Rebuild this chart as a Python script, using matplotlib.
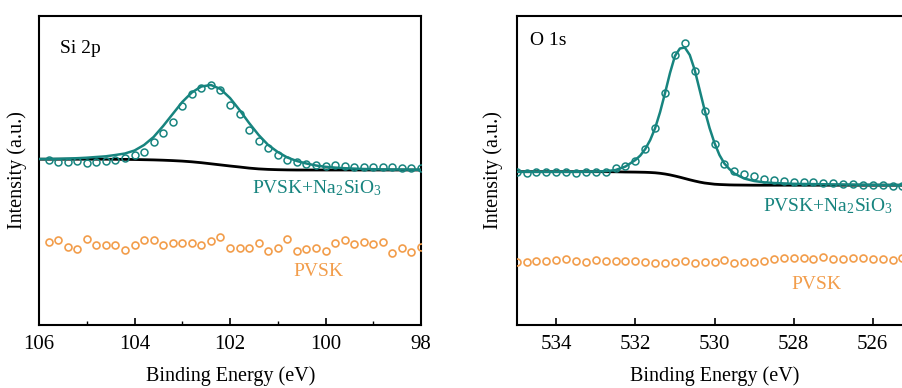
import numpy as np
import matplotlib
matplotlib.use("Agg")
import matplotlib.pyplot as plt

plt.rcParams['font.family'] = ['Liberation Serif', 'DejaVu Serif']
plt.rcParams['mathtext.fontset'] = 'custom'
plt.rcParams['mathtext.rm'] = 'Liberation Serif'
plt.rcParams['mathtext.it'] = 'Liberation Serif:italic'

teal = '#17847f'
orange = '#f29d4b'

# ---- Si 2p ----
si_energy = np.round(np.arange(105.8, 97.95, -0.2), 2)   # 40 points
si_mod = [165, 162.7, 163.3, 164, 162, 162.7, 164, 165, 166.7, 170,
          173.3, 182.7, 191.7, 203.3, 219.5, 231, 236.7, 240, 235, 219.7,
          211.5, 195, 184.5, 176.7, 170, 165.5, 163, 161, 160, 159.3,
          160, 159, 158.3, 158.3, 158.3, 158.3, 158.3, 156.7, 156.7, 156.7]
si_pvsk = [83.3, 85, 78.3, 76, 86, 80, 80, 80, 75, 80,
           85, 85, 80, 81.7, 81.7, 81.7, 80, 84.3, 87.7, 76.7,
           76.7, 76.7, 81.7, 74.3, 76.7, 86, 74, 76, 76.7, 74.3,
           81.7, 85, 81, 83.3, 81, 82.7, 71.7, 76.7, 73.3, 77.7]
si_fit_e = np.round(np.arange(106.0, 97.95, -0.2), 2)     # 41 points
si_fit = [166, 166, 166.2, 166.5, 166.8, 167.3, 168, 168.7, 170, 171.5,
          174.5, 180, 188, 199, 211, 223, 232.5, 238.5, 240, 236,
          227, 215, 202, 190, 180, 173, 167.5, 164, 161.5, 159.5,
          158.2, 157.4, 156.8, 156.4, 156, 155.8, 155.6, 155.5, 155.4, 155.3, 155.2]
si_bg = [165.8, 165.8, 165.8, 165.8, 165.8, 165.8, 165.8, 165.8, 165.7, 165.6,
         165.5, 165.3, 165.1, 164.8, 164.4, 163.9, 163.2, 162.3, 161.2, 160.1,
         159, 158, 156.9, 156.1, 155.6, 155.3, 155.1, 155.0, 155.0, 155.0,
         155.0, 155.0, 155.0, 155.0, 155.0, 155.0, 155.0, 155.0, 155.0, 155.0, 155.0]

# ---- O 1s ----
o_energy = np.round(np.arange(535.0, 525.2, -0.25), 2)    # 40 points
o_mod = [152.7, 152, 152.7, 153.3, 153.3, 153.3, 151.7, 152.7, 152.7, 153,
         156.7, 159.3, 164.3, 175.7, 196.7, 231.7, 270, 282, 254.3, 214,
         181.3, 160.7, 154, 151.5, 149, 146.5, 145, 144, 143.5, 143,
         142.7, 142.4, 141.7, 141.2, 141, 140.4, 140, 140, 138.7, 139.3]
o_pvsk = [63.3, 63.3, 64, 64, 65, 65.7, 64, 62.7, 65, 64,
          64, 64, 64, 63.3, 61.7, 62.3, 63.3, 64, 62.3, 63.3,
          63.3, 65, 62.3, 63.3, 63.3, 64.3, 65.7, 66.7, 66.7, 66.7,
          65.7, 67.7, 65.7, 65.7, 66.7, 66.7, 65.7, 65.7, 65, 66.7]
o_fit_e = [535.0, 534.0, 533.5, 533.0, 532.75, 532.5, 532.25, 532.0, 531.875, 531.75,
           531.625, 531.5, 531.375, 531.25, 531.125, 531.0, 530.875, 530.75, 530.625, 530.5,
           530.375, 530.25, 530.125, 530.0, 529.875, 529.75, 529.625, 529.5, 529.25, 529.0,
           528.75, 528.5, 528.0, 527.0, 526.0, 525.0]
o_fit = [153.2, 153.2, 153.2, 153.4, 153.8, 155, 158.5, 165, 169.5, 176,
         185, 197, 213, 232, 252, 269, 276.5, 277.5, 270, 255,
         235, 215, 197, 182, 170, 161.5, 156, 151.5, 146.5, 144,
         142.7, 142, 141.2, 140.6, 140.2, 139.8]
o_bg = [153.3, 153.3, 153.3, 153.3, 153.3, 153.2, 153.0, 152.9, 152.8, 152.7,
        152.5, 152.2, 151.7, 151, 150.1, 149, 147.8, 146.5, 145.2, 144,
        142.9, 142, 141.4, 140.8, 140.5, 140.3, 140.1, 140.0, 139.9, 139.8,
        139.8, 139.8, 139.8, 139.8, 139.8, 139.8]

fig = plt.figure(figsize=(9.02, 3.88), dpi=100)
ax1 = fig.add_axes([39 / 902, 63 / 388, 382 / 902, 309 / 388])
ax2 = fig.add_axes([516.7 / 902, 63 / 388, 395.6 / 902, 309 / 388])


def style(ax):
    ax.set_ylim(0, 309)
    ax.set_yticks([])
    for s in ax.spines.values():
        s.set_linewidth(1.5)
    ax.tick_params(axis='x', direction='in', length=5, width=1.2,
                   labelsize=15, pad=7)
    ax.tick_params(axis='x', which='minor', direction='in', length=3, width=1.0)
    ax.set_xlabel('Binding Energy (eV)', fontsize=14.5)
    ax.set_ylabel('Intensity (a.u.)', fontsize=14.5)


# Si 2p panel
ax1.plot(si_fit_e, si_bg, color='black', lw=2.0, zorder=2)
ax1.plot(si_fit_e, si_fit, color=teal, lw=1.8, zorder=3)
ax1.plot(si_energy, si_mod, 'o', mfc='none', mec=teal, ms=5, mew=1.1, zorder=4)
ax1.plot(si_energy, si_pvsk, 'o', mfc='none', mec=orange, ms=5, mew=1.2, zorder=4)
ax1.set_xlim(106, 98)
ax1.set_xticks([106, 104, 102, 100, 98])
ax1.set_xticks([105, 103, 101, 99], minor=True)
style(ax1)
ax1.text(0.055, 0.896, 'Si 2p', transform=ax1.transAxes, fontsize=14,
         ha='left', va='center')
ax1.text(0.727, 0.443, r'PVSK+Na$_\mathregular{2}$SiO$_\mathregular{3}$',
         transform=ax1.transAxes, fontsize=14, color=teal, ha='center', va='center')
ax1.text(0.732, 0.172, 'PVSK', transform=ax1.transAxes, fontsize=14,
         color=orange, ha='center', va='center')
ax1.yaxis.set_label_coords(-0.031, 0.5)
ax1.xaxis.set_label_coords(0.502, -0.132)

# O 1s panel
ax2.plot(o_fit_e, o_bg, color='black', lw=2.0, zorder=2)
ax2.plot(o_fit_e, o_fit, color=teal, lw=1.8, zorder=3)
ax2.plot(o_energy, o_mod, 'o', mfc='none', mec=teal, ms=5, mew=1.1, zorder=4)
ax2.plot(o_energy, o_pvsk, 'o', mfc='none', mec=orange, ms=5, mew=1.2, zorder=4)
ax2.set_xlim(535, 525)
ax2.set_xticks([534, 532, 530, 528, 526])
style(ax2)
ax2.text(0.034, 0.922, 'O 1s', transform=ax2.transAxes, fontsize=14,
         ha='left', va='center')
ax2.text(0.786, 0.385, r'PVSK+Na$_\mathregular{2}$SiO$_\mathregular{3}$',
         transform=ax2.transAxes, fontsize=14, color=teal, ha='center', va='center')
ax2.text(0.757, 0.131, 'PVSK', transform=ax2.transAxes, fontsize=14,
         color=orange, ha='center', va='center')
ax2.yaxis.set_label_coords(-0.034, 0.5)
ax2.xaxis.set_label_coords(0.5, -0.132)

fig.savefig('out.png', dpi=100)
